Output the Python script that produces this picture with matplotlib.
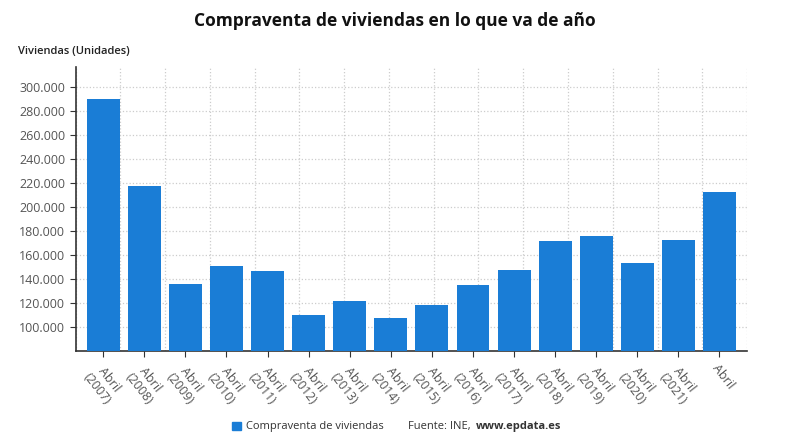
import numpy as np
import matplotlib.pyplot as plt
from matplotlib.patches import Rectangle

plt.rcParams['font.family'] = ['Open Sans', 'DejaVu Sans']

# Data
years = ['2007', '2008', '2009', '2010', '2011', '2012', '2013', '2014',
         '2015', '2016', '2017', '2018', '2019', '2020', '2021', '']
ventas = [290000, 217200, 135800, 150500, 146700, 109700, 121100, 107500,
          117750, 134700, 147750, 171300, 176100, 153000, 172750, 212750]
labels = ['Abril\n(%s)' % y if y else 'Abril' for y in years]

blue = '#1a7dd6'
grey = '#555555'

fig = plt.figure(figsize=(7.9, 4.44), dpi=100)
ax = fig.add_axes([0.0958, 0.2101, 0.8498, 0.6397])

x = np.arange(len(ventas))
ax.bar(x, ventas, width=0.8, color=blue, zorder=3)

xmin, xmax = -0.67, len(ventas) - 1 + 0.67
ax.set_xlim(xmin, xmax)
ax.set_ylim(80000, 317000)

yt = np.arange(100000, 300001, 20000)
ax.set_yticks(yt)
ax.set_yticklabels([f'{v:,}'.replace(',', '.') for v in yt])
ax.set_xticks(x)
ax.set_xticklabels(labels, rotation=-52, ha='left', va='top',
                   rotation_mode='anchor', multialignment='center')

# vertical grid at equal intervals, independent of bars
ax.set_xticks(np.linspace(xmin, xmax, 16), minor=True)
ax.tick_params(axis='x', which='minor', length=0)
ax.grid(axis='y', which='major', color='#cccccc', linestyle=':', linewidth=0.9, zorder=0)
ax.grid(axis='x', which='minor', color='#cccccc', linestyle=':', linewidth=0.9, zorder=0)

ax.tick_params(axis='both', which='major', labelsize=9, colors='#333333',
               labelcolor=grey, length=4, width=0.8)
ax.tick_params(axis='x', which='major', pad=4)
for s in ['top', 'right']:
    ax.spines[s].set_visible(False)
for s in ['left', 'bottom']:
    ax.spines[s].set_color('#333333')
    ax.spines[s].set_linewidth(1.2)

fig.text(0.5, 0.953, 'Compraventa de viviendas en lo que va de año',
         ha='center', va='center', fontsize=12.5, fontweight='bold', color='#111111')
fig.text(0.023, 0.885, 'Viviendas (Unidades)', ha='left', va='center',
         fontsize=8, fontweight='semibold', color='#222222')

# legend and source
fig.patches.append(Rectangle((0.294, 0.031), 0.011, 0.019, transform=fig.transFigure,
                             color=blue, figure=fig))
fig.text(0.311, 0.040, 'Compraventa de viviendas', ha='left', va='center',
         fontsize=8, color='#333333')
fig.text(0.517, 0.040, 'Fuente: INE, ', ha='left', va='center', fontsize=8, color='#333333')
fig.text(0.603, 0.040, 'www.epdata.es', ha='left', va='center', fontsize=8,
         fontweight='bold', color='#333333')

fig.savefig('out.png', dpi=100)
